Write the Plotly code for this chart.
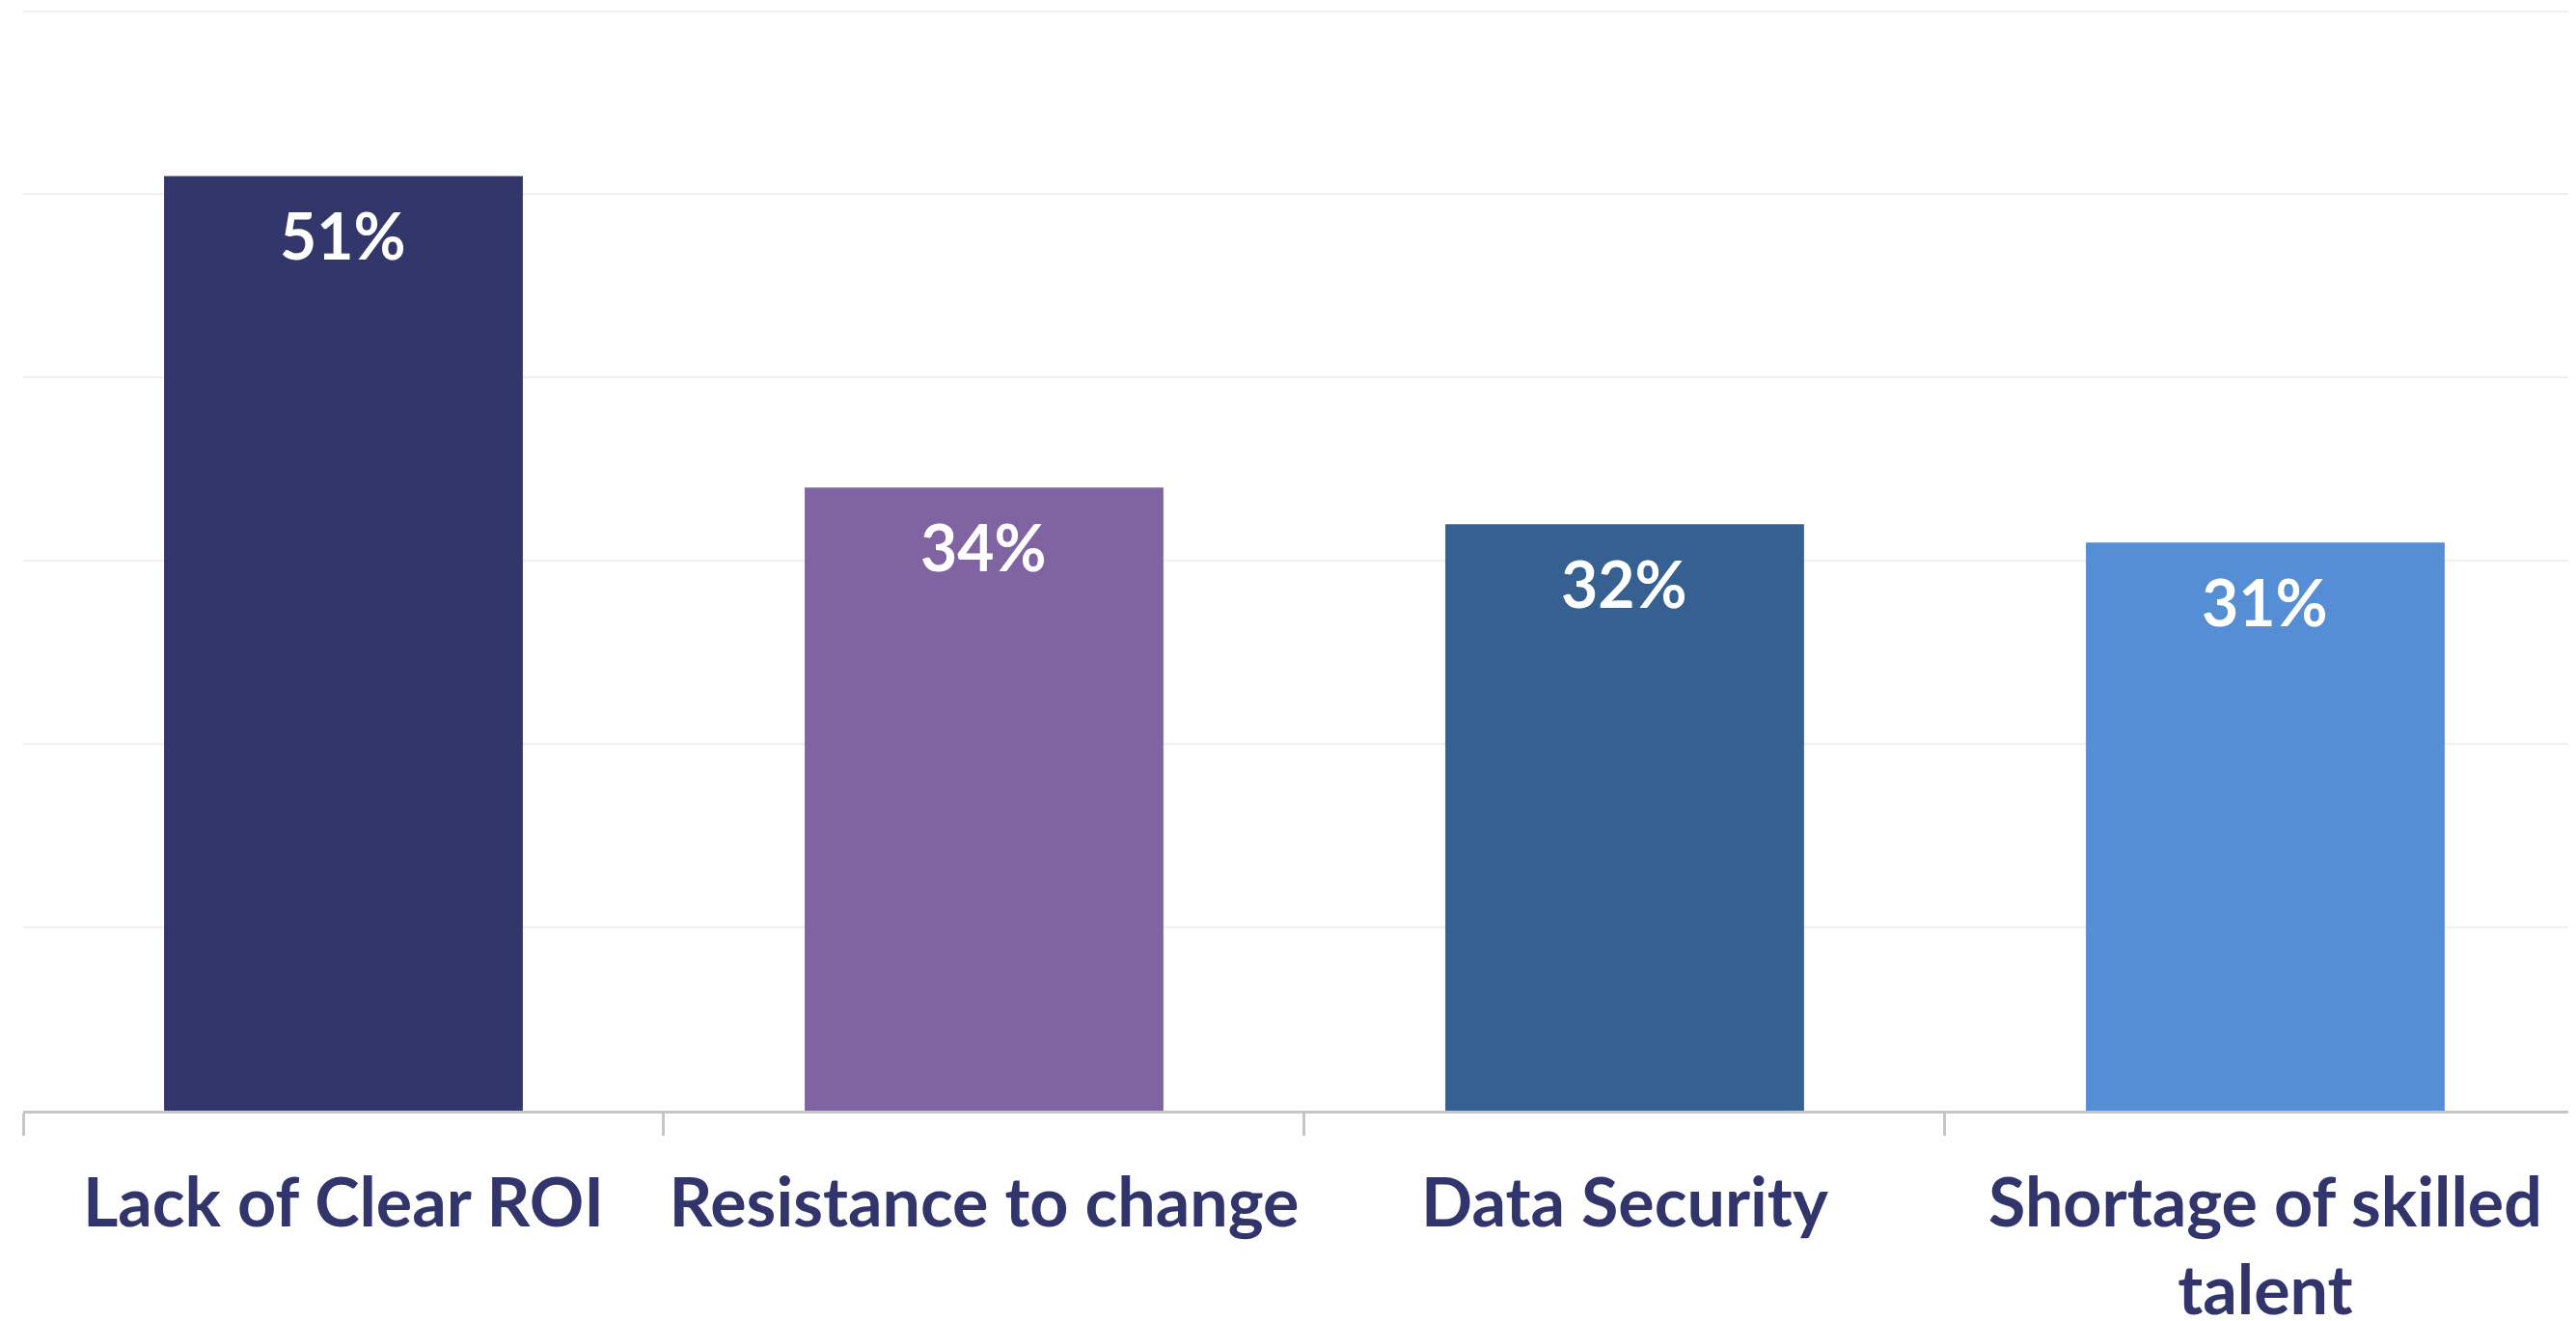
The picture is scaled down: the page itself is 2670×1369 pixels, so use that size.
import plotly.graph_objects as go

categories = ["Lack of Clear ROI", "Resistance to change", "Data Security", "Shortage of skilled<br>talent"]
values = [51, 34, 32, 31]
bar_colors = ["#32366B", "#8064A2", "#366092", "#558ED5"]
value_labels = [f"{v}%" for v in values]

NAVY = "#31356B"
FONT = "Lato"

fig = go.Figure()
fig.add_trace(
    go.Bar(
        x=categories,
        y=values,
        marker=dict(color=bar_colors, line=dict(width=0)),
        width=0.56,
        hoverinfo="skip",
    )
)

# value labels just under the top of each bar
for cat, val, lab in zip(categories, values, value_labels):
    fig.add_annotation(
        x=cat, y=val, text=f"<b>{lab}</b>", showarrow=False,
        yanchor="top", yshift=-20,
        font=dict(family=FONT, size=66, color="white"),
    )

# page body adds an 8px margin, so the figure is sized to fit the window
fig.update_layout(
    width=2662,
    height=1361,
    margin=dict(l=16, r=0, t=2, b=218),
    paper_bgcolor="white",
    plot_bgcolor="white",
    showlegend=False,
    font=dict(family=FONT, color=NAVY),
)

fig.update_xaxes(
    type="category",
    range=[-0.5, 3.485],
    showline=True, linecolor="#C6C6C6", linewidth=3,
    ticks="outside", tickson="boundaries", ticklen=23, tickwidth=3, tickcolor="#C6C6C6",
    tickfont=dict(family=FONT, size=70, color=NAVY, weight="bold"),
    tickangle=0,
    automargin=False,
    ticklabelstandoff=33,
    showgrid=False,
)

fig.update_yaxes(
    range=[0, 60.08],
    tickvals=[10, 20, 30, 40, 50, 60],
    showgrid=True, gridcolor="#F0F0F0", gridwidth=2,
    showticklabels=False,
    zeroline=False,
    showline=False,
    automargin=False,
)

fig.write_html("out.html")
